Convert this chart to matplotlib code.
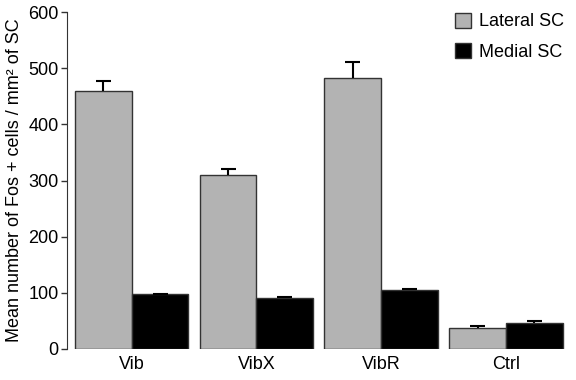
import matplotlib
matplotlib.use("Agg")
from matplotlib import pyplot as plt
import numpy as np

plt.rcParams['font.family'] = ['Liberation Sans', 'DejaVu Sans']

groups = ["Vib", "VibX", "VibR", "Ctrl"]
lateral = np.array([460, 310, 482, 37])
lateral_err = np.array([18, 10, 29, 3])
medial = np.array([97, 91, 104, 46])
medial_err = np.array([1, 1, 3, 3])

x = np.arange(len(groups))
w = 0.455

fig = plt.figure(figsize=(5.76, 3.8), dpi=100)
ax = fig.add_axes([0.116, 0.082, 0.875, 0.886])

ax.bar(x - w / 2, lateral, w, color="#b3b3b3", edgecolor="#333333", linewidth=1, label="Lateral SC")
ax.bar(x + w / 2, medial, w, color="black", edgecolor="#333333", linewidth=1, label="Medial SC")

# upper-only error bars
cap = 0.06
for xs, vals, errs in [(x - w / 2, lateral, lateral_err), (x + w / 2, medial, medial_err)]:
    ax.vlines(xs, vals, vals + errs, color="black", linewidth=1.5)
    ax.hlines(vals + errs, xs - cap, xs + cap, color="black", linewidth=1.5)

ax.set_xlim(-0.52, 3.52)
ax.set_ylim(0, 600)
ax.set_yticks(range(0, 601, 100))
ax.set_xticks(x)
ax.set_xticklabels(groups, fontsize=13)
ax.tick_params(axis="x", length=0, pad=5)
ax.tick_params(axis="y", labelsize=13, length=4, width=1, color="#333333", pad=2)
for s in ["top", "right", "bottom"]:
    ax.spines[s].set_visible(False)
ax.spines["left"].set_color("#333333")
ax.set_ylabel("Mean number of Fos + cells / mm² of SC", fontsize=13, labelpad=4)

ax.legend(loc="upper right", frameon=False, fontsize=13, handlelength=0.9, handleheight=0.9,
          borderaxespad=0.0, labelspacing=0.7, handletextpad=0.4, bbox_to_anchor=(1.0, 1.02))

fig.savefig("out.png", dpi=100)
